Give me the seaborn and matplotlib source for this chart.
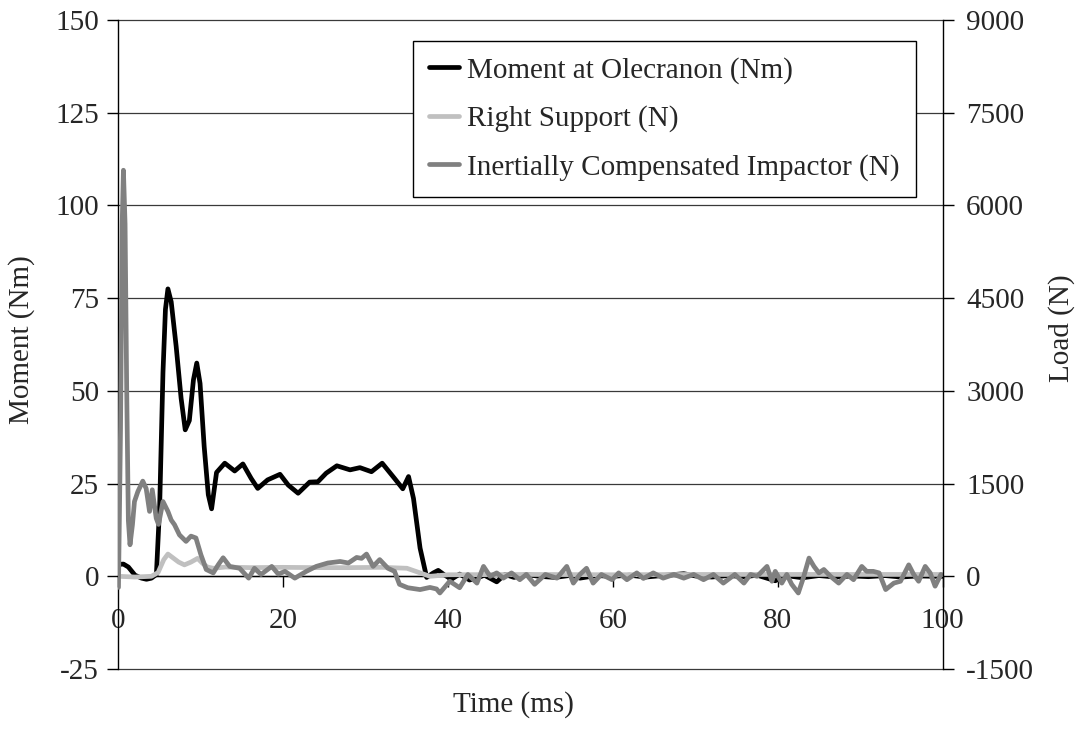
import matplotlib
matplotlib.use("Agg")
import matplotlib.pyplot as plt
from matplotlib.lines import Line2D
import seaborn as sns
import pandas as pd

# Moment at the olecranon (Nm), left axis
moment_t = [0, 0.6, 1.2, 2.0, 2.8, 3.4, 4.0, 4.6, 5.0, 5.4, 5.7, 6.0, 6.4, 7.0, 7.6,
            8.1, 8.6, 9.1, 9.5, 9.9, 10.4, 10.9, 11.3, 11.9, 12.9, 14.1, 15.1, 16.1,
            16.9, 18.1, 19.6, 20.6, 21.8, 23.2, 24.2, 25.2, 26.5, 28.1, 29.3, 30.7,
            32.0, 33.5, 34.5, 35.2, 35.8, 36.6, 37.4, 38.2, 38.8, 39.6, 40.4, 41.4,
            42.6, 43.5, 44.4, 45.9, 46.9, 48.0, 49.5, 51, 53, 55, 56, 58, 60, 62, 64,
            66, 68.6, 70, 72, 74, 76, 77.5, 79.7, 81, 83, 85, 87, 89, 91, 93, 95, 97,
            99, 100]
moment_nm = [3.2, 3.3, 2.5, 0.3, -0.5, -0.8, -0.5, 0.5, 19, 55, 72, 77.5, 74, 62, 48,
             39.5, 42, 53, 57.5, 52, 35, 22, 18.2, 28, 30.5, 28.4, 30.3, 26.4,
             23.7, 26, 27.5, 24.6, 22.4, 25.4, 25.5, 27.8, 29.8, 28.7, 29.3, 28.2,
             30.5, 26.4, 23.6, 26.9, 21, 7.6, -0.3, 0.9, 1.6, 0.3, -0.8, 0.6,
             -1.0, -0.5, 0.3, -1.5, 0.5, -0.3, 0.5, 0, -0.3, 0.3, -0.5, 0.2, 0, 0.3, -0.2,
             0.2, 0.7, 0.1, -0.2, 0.2, -0.1, 0.3, -1.2, 0.2, -0.4, 0.2, -0.2, 0.1, -0.1, 0.2,
             -0.2, 0.1, 0, 0]

# Right support reaction (N), right axis
support_t = [0, 2, 4, 4.8, 5.5, 6.0, 6.6, 7.3, 8.0, 8.8, 9.6, 10.2, 10.8, 11.5, 13, 16,
             20, 24, 28, 32, 35, 36.5, 37.8, 40, 50, 60, 70, 80, 90, 100]
support_n = [0, -12, 0, 60, 270, 360, 300, 230, 185, 230, 290, 210, 150, 130, 150, 140,
             145, 140, 140, 145, 130, 60, 0, 25, 30, 25, 30, 30, 30, 30]

# Inertially compensated impactor load (N), right axis
impactor_t = [0.0, 0.25, 0.45, 0.6, 0.8, 1.0, 1.2, 1.4, 1.7, 1.94, 2.35, 2.95, 3.36, 3.77,
              4.1, 4.58, 4.86, 5.4, 6.0, 6.4, 6.8, 7.4, 8.2, 8.8, 9.4, 10.0, 10.65, 11.5,
              12.1, 12.7, 13.5, 14.7, 15.8, 16.5, 17.3, 18.6, 19.4, 20.2, 21.4, 22.8,
              24.0, 25.4, 26.9, 27.9, 28.9, 29.5, 30.1, 30.9, 31.7, 32.7, 33.5, 34.1,
              35.1, 36.6, 37.8, 38.6, 39.0, 40.2, 41.4, 42.4, 43.5, 44.3, 45.1, 45.9,
              46.7, 47.7, 48.7, 49.5, 50.5, 51.8, 53.2, 54.4, 55.2, 56.0, 56.8, 57.6,
              58.6, 59.9, 60.7, 61.7, 62.9, 63.7, 64.9, 66.1, 67.4, 68.6, 69.8, 71.0,
              72.2, 73.4, 74.8, 75.9, 76.7, 77.5, 78.1, 78.7, 79.3, 79.7, 80.5, 81.1,
              81.7, 82.5, 83.1, 83.8, 84.4, 85.0, 85.6, 86.4, 87.4, 88.4, 89.2, 90.2,
              90.8, 91.6, 92.3, 93.1, 94.1, 94.9, 95.9, 96.5, 97.1, 97.9, 98.5, 99.1,
              99.8]
impactor_n = [-180, 2400, 5700, 6570, 5700, 3000, 900, 510, 840, 1210, 1370, 1540, 1420,
              1050, 1400, 940, 840, 1210, 1050, 910, 835, 670, 565, 650, 620, 350, 110,
              55, 185, 300, 160, 130, -30, 130, 30, 160, 35, 80, -30, 80, 160, 215, 240,
              215, 305, 290, 360, 160, 270, 130, 80, -130, -185, -215, -180, -205, -270,
              -80, -185, 30, -110, 160, 0, 55, -30, 55, -55, 30, -130, 30, -30, 160,
              -110, 30, 130, -110, 30, -55, 55, -55, 55, -35, 55, -30, 30, -30, 30, -55,
              30, -110, 30, -110, 30, 0, 80, 160, -80, 80, -110, 30, -130, -270, -30,
              295, 160, 55, 110, 0, -110, 30, -55, 160, 80, 80, 55, -215, -110, -80,
              185, 30, -80, 160, 55, -160, 30]

x_ticks = [0, 20, 40, 60, 80, 100]
moment_ticks = [-25, 0, 25, 50, 75, 100, 125, 150]
load_ticks = [-1500, 0, 1500, 3000, 4500, 6000, 7500, 9000]

series_labels = ["Moment at Olecranon (Nm)", "Right Support (N)",
                 "Inertially Compensated Impactor (N)"]
series_colors = ["black", "#c0c0c0", "#808080"]

sns.set_theme(style="white")
plt.rcParams["font.family"] = ["Liberation Serif", "DejaVu Serif"]
plt.rcParams["font.size"] = 21

moment_df = pd.DataFrame({"t": moment_t, "v": moment_nm})
support_df = pd.DataFrame({"t": support_t, "v": support_n})
impactor_df = pd.DataFrame({"t": impactor_t, "v": impactor_n})

LW = 3.4

fig = plt.figure(figsize=(10.8, 7.31), dpi=100)
ax = fig.add_axes([0.1097, 0.0848, 0.7630, 0.8878])
ax2 = ax.twinx()
ax2.patch.set_visible(False)

# horizontal gridlines on the moment scale (including the frame edges)
for yv in moment_ticks:
    ax.axhline(yv, color="#3a3a3a", lw=0.9, zorder=0.5, clip_on=False)

sns.lineplot(data=moment_df, x="t", y="v", ax=ax, color=series_colors[0], lw=LW,
             sort=False, estimator=None, legend=False)
sns.lineplot(data=support_df, x="t", y="v", ax=ax2, color=series_colors[1], lw=LW,
             sort=False, estimator=None, legend=False)
sns.lineplot(data=impactor_df, x="t", y="v", ax=ax2, color=series_colors[2], lw=LW,
             sort=False, estimator=None, legend=False)
for ln in ax.get_lines()[-1:] + ax2.get_lines()[-2:]:
    ln.set_solid_joinstyle("round")
    ln.set_solid_capstyle("round")

ax.set_xlim(0, 100)
ax.set_ylim(-25, 150)
ax2.set_ylim(-1500, 9000)
ax.set_xticks(x_ticks)
ax.set_yticks(moment_ticks)
ax2.set_yticks(load_ticks)
ax.set_yticklabels([str(v) for v in moment_ticks])
ax2.set_yticklabels([str(v) for v in load_ticks])

ax.spines["bottom"].set_position(("data", 0))
for a in (ax, ax2):
    a.spines["top"].set_visible(False)
    for s in a.spines.values():
        s.set_color("black")
        s.set_linewidth(1.0)
ax2.spines["bottom"].set_visible(False)
ax2.spines["left"].set_visible(False)
ax.spines["right"].set_visible(False)

ax.tick_params(axis="x", direction="out", length=8, width=1, color="black",
               pad=15, labelsize=21, bottom=True)
ax.tick_params(axis="y", direction="out", length=8, width=1, color="black",
               pad=6, labelsize=21, left=True)
ax2.tick_params(axis="y", direction="out", length=8, width=1, color="black",
                pad=9, labelsize=21, right=True)

ax.set_xlabel("")
ax.set_ylabel("")
ax2.set_ylabel("")
fig.text(22 / 1080, 1 - 340 / 731, "Moment (Nm)", rotation=90, ha="center",
         va="center", fontsize=21)
fig.text(1062 / 1080, 1 - 328 / 731, "Load (N)", rotation=90, ha="center",
         va="center", fontsize=21)
fig.text(513 / 1080, 1 - 705 / 731, "Time (ms)", ha="center", va="center", fontsize=21)

handles = [Line2D([], [], color=c, lw=LW) for c in series_colors]
leg = ax2.legend(handles, series_labels, loc="upper left", bbox_to_anchor=(0.357, 0.968),
                 borderaxespad=0, frameon=True, fancybox=False, fontsize=21,
                 handlelength=1.05, handletextpad=0.27, labelspacing=0.74,
                 borderpad=0.55)
leg.get_frame().set_edgecolor("black")
leg.get_frame().set_linewidth(1.0)
leg.get_frame().set_facecolor("white")
leg.get_frame().set_alpha(1)

fig.savefig("out.png", dpi=100)
